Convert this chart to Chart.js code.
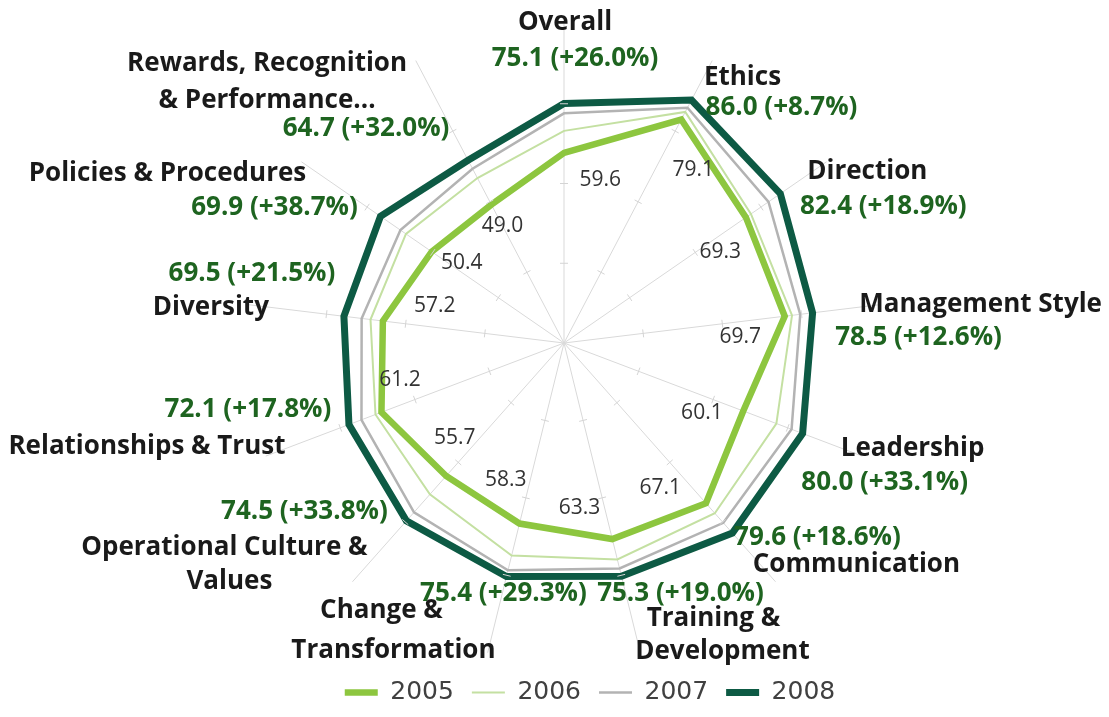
<!DOCTYPE html>
<html>
<head>
<meta charset="utf-8">
<title>Survey scores by dimension, 2005-2008</title>
<script src="https://cdn.jsdelivr.net/npm/chart.js@4.4.1/dist/chart.umd.min.js"></script>
<style>
  html, body { margin: 0; padding: 0; background: #fff; }
  canvas { display: block; }
</style>
</head>
<body>
<canvas id="radar" width="1109" height="717"></canvas>
<script>
const dimensions = ["Overall", "Ethics", "Direction", "Management Style", "Leadership", "Communication",
  "Training & Development", "Change & Transformation", "Operational Culture & Values",
  "Relationships & Trust", "Diversity", "Policies & Procedures", "Rewards, Recognition & Performance..."];
// wrapped versions of the names as they are printed around the web
const dimensionLines = [["Overall"], ["Ethics"], ["Direction"], ["Management Style"], ["Leadership"],
  ["Communication"], ["Training &", "Development"], ["Change &", "Transformation"],
  ["Operational Culture &", "Values"], ["Relationships & Trust"], ["Diversity"],
  ["Policies & Procedures"], ["Rewards, Recognition", "& Performance..."]];

const years = ["2005", "2006", "2007", "2008"];
const scores2005 = [59.6, 79.1, 69.3, 69.7, 60.1, 67.1, 63.3, 58.3, 55.7, 61.2, 57.2, 50.4, 49.0];
const scores2006 = [66.5, 81.8, 71.2, 72.0, 71.2, 71.3, 69.9, 68.6, 63.4, 63.2, 61.1, 60.2, 58.4];
const scores2007 = [72.0, 83.3, 77.9, 74.6, 76.3, 75.3, 72.8, 73.4, 70.9, 67.9, 63.9, 62.3, 61.7];
const scores2008 = [75.1, 86.0, 82.4, 78.5, 80.0, 79.6, 75.3, 75.4, 74.5, 72.1, 69.5, 69.9, 64.7];

// callout placement, relative to the 2008 vertex of each spoke
const valueOffsets = [[11, -45], [90, 8], [103, 13], [106, 25], [82, 49], [85, 5], [59, 17],
  [-3, 17], [-102, -9], [-101, -15], [-92, -43], [-106, -9], [-102, -32]];
const nameOffsets = [
  [[1, -81]], [[51, -22]], [[87, -22]], [[168, -8]], [[110, 15]], [[124, 32]],
  [[92, 42], [101, 75]], [[-125, 34], [-113, 74]], [[-182, 27], [-177, 61]],
  [[-202, 22]], [[-133, -9]], [[-213, -43]], [[-201, -97], [-201, -60]]
];
// 2005 labels sit a little inside the line and turned clockwise off the spoke
const innerShiftDeg = [12.5, 9, 4.3, 5, 6.2, 8, 8.5, 9.2, 7.5, 8, 9.1, 3.4, 0];
const innerInset = [23, 36, 40, 46, 37, 40, 36, 37, 33, 27, 48, 31, 24];

const palette = ["#8DC63F", "#C4E0A2", "#B3B3B3", "#0D5A44"];
const widths = [6.5, 2, 2.5, 7];

const radarCallouts = {
  id: "radarCallouts",
  afterLayout(chart) {
    // legend row sits a bit right of the web's centre
    chart.legend.left += 26;
    chart.legend.right += 26;
  },
  afterDatasetsDraw(chart) {
    const { ctx } = chart;
    const r = chart.scales.r;
    ctx.save();

    // small cross ticks along each spoke
    ctx.strokeStyle = "#D4D4D4";
    ctx.lineWidth = 1;
    dimensions.forEach((d, i) => {
      const a = r.getIndexAngle(i) - Math.PI / 2;
      [25, 50, 75].forEach(v => {
        const p = r.getPointPositionForValue(i, v);
        const nx = -Math.sin(a) * 4, ny = Math.cos(a) * 4;
        ctx.beginPath();
        ctx.moveTo(p.x - nx, p.y - ny);
        ctx.lineTo(p.x + nx, p.y + ny);
        ctx.stroke();
      });
    });

    ctx.textAlign = "center";
    ctx.textBaseline = "middle";

    // 2005 values
    ctx.font = "21px 'Open Sans'";
    ctx.fillStyle = "#333333";
    scores2005.forEach((v, i) => {
      const a = r.getIndexAngle(i) - Math.PI / 2 + innerShiftDeg[i] * Math.PI / 180;
      const d = r.getDistanceFromCenterForValue(v) - innerInset[i];
      ctx.fillText(v.toFixed(1), r.xCenter + Math.cos(a) * d, r.yCenter + Math.sin(a) * d);
    });

    // names and 2008 values with the change since 2005
    scores2008.forEach((v, i) => {
      const p = r.getPointPositionForValue(i, v);
      const pct = (v / scores2005[i] - 1) * 100;
      ctx.font = "bold 26px 'Open Sans'";
      ctx.fillStyle = "#1E6420";
      ctx.fillText(v.toFixed(1) + " (+" + pct.toFixed(1) + "%)", p.x + valueOffsets[i][0], p.y + valueOffsets[i][1]);
      ctx.fillStyle = "#1A1A1A";
      dimensionLines[i].forEach((line, k) => {
        const o = nameOffsets[i][k];
        ctx.fillText(line, p.x + o[0], p.y + o[1]);
      });
    });
    ctx.restore();
  }
};

const series = [scores2005, scores2006, scores2007, scores2008];

new Chart(document.getElementById("radar"), {
  type: "radar",
  data: {
    labels: dimensions,
    datasets: years.map((y, k) => ({
      label: y,
      data: series[k],
      borderColor: palette[k],
      backgroundColor: palette[k],
      borderWidth: widths[k],
      borderJoinStyle: "miter",
      borderCapStyle: "round",
      fill: false,
      pointRadius: 0,
      pointHoverRadius: 0,
      tension: 0
    }))
  },
  options: {
    responsive: false,
    animation: false,
    layout: { padding: { top: 24, left: 19, right: 0, bottom: 2 } },
    scales: {
      r: {
        min: 0,
        max: 100,
        grid: { display: false },
        angleLines: { color: "#D9D9D9", lineWidth: 1 },
        ticks: { display: false, stepSize: 25 },
        pointLabels: { display: false }
      }
    },
    plugins: {
      legend: {
        position: "bottom",
        labels: {
          usePointStyle: true,
          pointStyle: "line",
          pointStyleWidth: 33,
          padding: 18,
          color: "#404040",
          font: { family: "'DejaVu Sans'", size: 25 }
        }
      },
      tooltip: { enabled: false }
    }
  },
  plugins: [radarCallouts]
});
</script>
</body>
</html>
